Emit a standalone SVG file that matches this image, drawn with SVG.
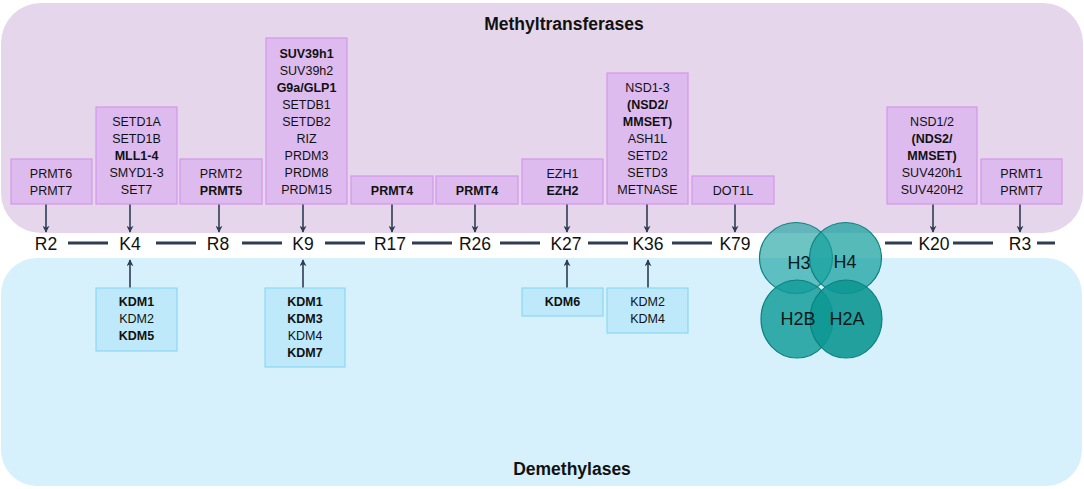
<svg xmlns="http://www.w3.org/2000/svg" width="1084" height="489" viewBox="0 0 1084 489">
<defs>
<style>
.mt{fill:#ddbbef;stroke:#d595ec;stroke-width:1.2}
.dm{fill:#bde9fb;stroke:#8dd8f5;stroke-width:1.2}
.t{font-family:"Liberation Sans",Arial,sans-serif;font-size:12.5px;fill:#111;text-anchor:middle}
.b{font-weight:bold}
.lab{font-family:"Liberation Sans",Arial,sans-serif;font-size:17.5px;fill:#111;text-anchor:middle}
.ttl{font-family:"Liberation Sans",Arial,sans-serif;font-size:17.5px;font-weight:bold;fill:#111;text-anchor:middle}
.dash{stroke:#2f3d52;stroke-width:3}
.arr{stroke:#2f3d52;stroke-width:1.6;fill:none;marker-end:url(#ah)}
.hc{stroke:#0c817e;stroke-width:1.2}
.ht{font-family:"Liberation Sans",Arial,sans-serif;font-size:18px;fill:#0a1a1a;text-anchor:middle}
</style>
<marker id="ah" viewBox="0 0 10 10" refX="9" refY="5" markerWidth="7" markerHeight="7" orient="auto" markerUnits="userSpaceOnUse">
<path d="M0,0 L10,5 L0,10 L3,5 z" fill="#2f3d52"/>
</marker>
</defs>

<g id="panels">
<rect x="1" y="3" width="1082" height="230" rx="40" fill="#e5d6ec"/>
<rect x="1" y="258" width="1081" height="228" rx="36" fill="#d6f1fc"/>
<text class="ttl" x="564" y="30">Methyltransferases</text>
<text class="ttl" x="572" y="475">Demethylases</text>
</g>

<g id="connectors">
<line class="dash" x1="68" y1="243" x2="108" y2="243"/>
<line class="dash" x1="156" y1="243" x2="196" y2="243"/>
<line class="dash" x1="242" y1="243" x2="282" y2="243"/>
<line class="dash" x1="325" y1="243" x2="365" y2="243"/>
<line class="dash" x1="412" y1="243" x2="452" y2="243"/>
<line class="dash" x1="500" y1="243" x2="540" y2="243"/>
<line class="dash" x1="588" y1="243" x2="628" y2="243"/>
<line class="dash" x1="672" y1="243" x2="712" y2="243"/>
<line class="dash" x1="885" y1="243" x2="912" y2="243"/>
<line class="dash" x1="953" y1="243" x2="993" y2="243"/>
<line class="dash" x1="1037" y1="243" x2="1055" y2="243"/>
<line class="arr" x1="46" y1="204" x2="46" y2="232"/>
<line class="arr" x1="130" y1="204" x2="130" y2="232"/>
<line class="arr" x1="219" y1="204" x2="219" y2="232"/>
<line class="arr" x1="303" y1="204" x2="303" y2="232"/>
<line class="arr" x1="392" y1="204" x2="392" y2="232"/>
<line class="arr" x1="475" y1="204" x2="475" y2="232"/>
<line class="arr" x1="567" y1="204" x2="567" y2="232"/>
<line class="arr" x1="647" y1="204" x2="647" y2="232"/>
<line class="arr" x1="735" y1="204" x2="735" y2="232"/>
<line class="arr" x1="933" y1="204" x2="933" y2="232"/>
<line class="arr" x1="1020" y1="204" x2="1020" y2="232"/>
<line class="arr" x1="130" y1="288" x2="130" y2="260"/>
<line class="arr" x1="303" y1="288" x2="303" y2="260"/>
<line class="arr" x1="567" y1="288" x2="567" y2="260"/>
<line class="arr" x1="648" y1="288" x2="648" y2="260"/>
</g>

<g id="sites">
<text class="lab" x="46" y="250">R2</text>
<text class="lab" x="130" y="250">K4</text>
<text class="lab" x="218" y="250">R8</text>
<text class="lab" x="303" y="250">K9</text>
<text class="lab" x="390" y="250">R17</text>
<text class="lab" x="475" y="250">R26</text>
<text class="lab" x="566" y="250">K27</text>
<text class="lab" x="648" y="250">K36</text>
<text class="lab" x="735" y="250">K79</text>
<text class="lab" x="934" y="250">K20</text>
<text class="lab" x="1020" y="250">R3</text>
</g>

<g id="mt-R2">
<rect class="mt" x="11" y="159" width="81" height="45"/>
<text class="t" x="51" y="178">PRMT6</text>
<text class="t" x="51" y="195">PRMT7</text>
</g>
<g id="mt-K4">
<rect class="mt" x="96" y="107" width="81" height="97"/>
<text class="t" x="136.5" y="126">SETD1A</text>
<text class="t" x="136.5" y="143">SETD1B</text>
<text class="t b" x="136.5" y="160">MLL1-4</text>
<text class="t" x="136.5" y="177">SMYD1-3</text>
<text class="t" x="136.5" y="194">SET7</text>
</g>
<g id="mt-R8">
<rect class="mt" x="180" y="159" width="82" height="45"/>
<text class="t" x="221" y="178">PRMT2</text>
<text class="t b" x="221" y="195">PRMT5</text>
</g>
<g id="mt-K9">
<rect class="mt" x="266" y="38" width="81" height="166"/>
<text class="t b" x="306.5" y="58">SUV39h1</text>
<text class="t" x="306.5" y="75">SUV39h2</text>
<text class="t b" x="306.5" y="92">G9a/GLP1</text>
<text class="t" x="306.5" y="109">SETDB1</text>
<text class="t" x="306.5" y="126">SETDB2</text>
<text class="t" x="306.5" y="143">RIZ</text>
<text class="t" x="306.5" y="160">PRDM3</text>
<text class="t" x="306.5" y="177">PRDM8</text>
<text class="t" x="306.5" y="194">PRDM15</text>
</g>
<g id="mt-R17">
<rect class="mt" x="351" y="176" width="82" height="28"/>
<text class="t b" x="392" y="195">PRMT4</text>
</g>
<g id="mt-R26">
<rect class="mt" x="436" y="176" width="82" height="28"/>
<text class="t b" x="477" y="195">PRMT4</text>
</g>
<g id="mt-K27">
<rect class="mt" x="522" y="159" width="81" height="45"/>
<text class="t" x="562.5" y="178">EZH1</text>
<text class="t b" x="562.5" y="195">EZH2</text>
</g>
<g id="mt-K36">
<rect class="mt" x="607" y="73" width="81" height="131"/>
<text class="t" x="647.5" y="92">NSD1-3</text>
<text class="t b" x="647.5" y="109">(NSD2/</text>
<text class="t b" x="647.5" y="126">MMSET)</text>
<text class="t" x="647.5" y="143">ASH1L</text>
<text class="t" x="647.5" y="160">SETD2</text>
<text class="t" x="647.5" y="177">SETD3</text>
<text class="t" x="647.5" y="194">METNASE</text>
</g>
<g id="mt-K79">
<rect class="mt" x="692" y="176" width="82" height="28"/>
<text class="t" x="733" y="195">DOT1L</text>
</g>
<g id="mt-K20">
<rect class="mt" x="887" y="107" width="90" height="97"/>
<text class="t" x="932" y="126">NSD1/2</text>
<text class="t b" x="932" y="143">(NDS2/</text>
<text class="t b" x="932" y="160">MMSET)</text>
<text class="t" x="932" y="177">SUV420h1</text>
<text class="t" x="932" y="194">SUV420H2</text>
</g>
<g id="mt-R3">
<rect class="mt" x="981" y="159" width="81" height="45"/>
<text class="t" x="1021.5" y="178">PRMT1</text>
<text class="t" x="1021.5" y="195">PRMT7</text>
</g>

<g id="dm-K4">
<rect class="dm" x="96" y="288" width="81" height="63"/>
<text class="t b" x="136.5" y="306">KDM1</text>
<text class="t" x="136.5" y="323">KDM2</text>
<text class="t b" x="136.5" y="340">KDM5</text>
</g>
<g id="dm-K9">
<rect class="dm" x="265" y="288" width="80" height="79"/>
<text class="t b" x="305" y="306">KDM1</text>
<text class="t b" x="305" y="323">KDM3</text>
<text class="t" x="305" y="340">KDM4</text>
<text class="t b" x="305" y="357">KDM7</text>
</g>
<g id="dm-K27">
<rect class="dm" x="522" y="288" width="81" height="28"/>
<text class="t b" x="562.5" y="306">KDM6</text>
</g>
<g id="dm-K36">
<rect class="dm" x="607" y="288" width="81" height="45"/>
<text class="t" x="647.5" y="306">KDM2</text>
<text class="t" x="647.5" y="323">KDM4</text>
</g>

<g id="histones">
<ellipse class="hc" cx="796" cy="258" rx="36.5" ry="35.5" fill="#14a09c" fill-opacity="0.62"/>
<ellipse class="hc" cx="845.5" cy="258" rx="36" ry="35.5" fill="#14a09c" fill-opacity="0.72"/>
<ellipse class="hc" cx="797" cy="319" rx="36" ry="39" fill="#0f9b97" fill-opacity="0.82"/>
<ellipse class="hc" cx="846" cy="319" rx="36" ry="39" fill="#0d9793" fill-opacity="0.9"/>
<text class="ht" x="799" y="269">H3</text>
<text class="ht" x="845" y="268">H4</text>
<text class="ht" x="798" y="325">H2B</text>
<text class="ht" x="847" y="325">H2A</text>
</g>
</svg>
